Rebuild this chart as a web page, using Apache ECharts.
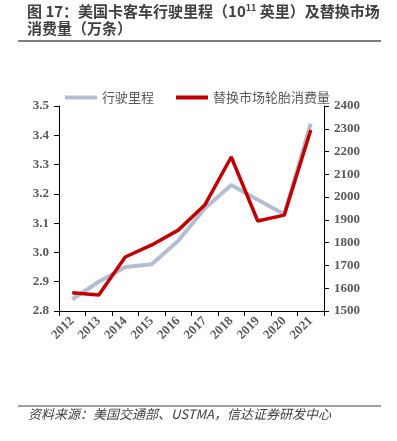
<!DOCTYPE html>
<html><head><meta charset="utf-8">
<script src="https://cdn.jsdelivr.net/npm/echarts@6/dist/echarts.min.js"></script>
<style>html,body{margin:0;padding:0;background:#fff}#c{width:397px;height:441px}</style>
</head><body><div id="c"></div>
<script>
var years = ['2012','2013','2014','2015','2016','2017','2018','2019','2020','2021'];
var mileage = [2.84, 2.90, 2.95, 2.96, 3.04, 3.15, 3.23, 3.18, 3.13, 3.44];
var tires = [1580, 1570, 1737, 1790, 1855, 1965, 2176, 1895, 1921, 2295];
var chart = echarts.init(document.getElementById('c'));
var axisLbl = {color:'#595959', fontFamily:'Liberation Serif', fontWeight:'bold', fontSize:13};
chart.setOption({
  animation:false,
  graphic:[
    {type:'text', left:27, top:21, style:{text:'消费量（万条）', font:'bold 15px "Noto Sans CJK SC"', fill:'#404040'}},
    {type:'line', shape:{x1:18,y1:41,x2:381,y2:41}, style:{stroke:'#7f7f7f', lineWidth:2}},
    {type:'line', shape:{x1:18,y1:406,x2:381,y2:406}, style:{stroke:'#404040', lineWidth:1}},
    {type:'text', left:28, top:408, style:{text:'资料来源：美国交通部、USTMA，信达证券研发中心', font:'italic 13px "Noto Sans CJK SC"', fill:'#404040'}}
  ],
  title:{
    text:'图 17：美国卡客车行驶里程（10{s|11} 英里）及替换市场', left:27, top:3, padding:0,
    textStyle:{fontFamily:'Noto Sans CJK SC', fontWeight:'bold', fontSize:15, color:'#404040', rich:{s:{fontSize:9, fontWeight:'bold', verticalAlign:'top', color:'#404040', padding:[0,0,8,0]}}}
  },
  legend:{
    top:86, left:60, itemWidth:32, itemHeight:4, itemGap:22,
    textStyle:{fontFamily:'Noto Sans CJK SC', fontSize:13, color:'#595959'},
    data:[{name:'行驶里程', icon:'rect'},{name:'替换市场轮胎消费量', icon:'rect'}]
  },
  grid:{left:59, right:73, top:106, bottom:130},
  xAxis:{
    type:'category', data:years, boundaryGap:true,
    axisLine:{lineStyle:{color:'#000', width:1}},
    axisTick:{show:true, alignWithLabel:false, length:5, lineStyle:{color:'#000'}},
    axisLabel:Object.assign({rotate:45, margin:8, interval:0}, axisLbl)
  },
  yAxis:[
    {type:'value', min:2.8, max:3.5, interval:0.1, position:'left',
     axisLine:{show:true, lineStyle:{color:'#000'}},
     axisTick:{show:true, length:5, lineStyle:{color:'#000'}},
     splitLine:{show:false},
     axisLabel:Object.assign({formatter:function(v){return v.toFixed(1);}, margin:10}, axisLbl)},
    {type:'value', min:1500, max:2400, interval:100, position:'right',
     axisLine:{show:true, lineStyle:{color:'#000'}},
     axisTick:{show:true, length:5, lineStyle:{color:'#000'}},
     splitLine:{show:false},
     axisLabel:Object.assign({formatter:function(v){return String(v);}, margin:10}, axisLbl)}
  ],
  series:[
    {name:'行驶里程', type:'line', data:mileage, yAxisIndex:0, symbol:'none',
     lineStyle:{color:'#B4BED2', width:4}, itemStyle:{color:'#B4BED2'}},
    {name:'替换市场轮胎消费量', type:'line', data:tires, yAxisIndex:1, symbol:'none',
     lineStyle:{color:'#C00000', width:3.5}, itemStyle:{color:'#C00000'}}
  ]
});
</script></body></html>
